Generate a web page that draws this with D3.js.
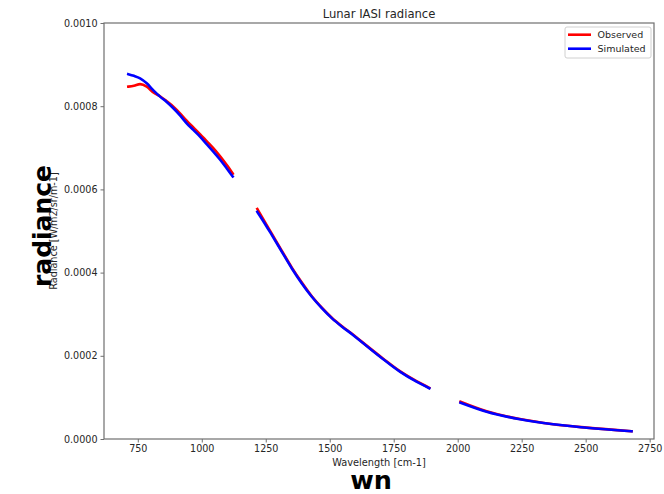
<!DOCTYPE html>
<html>
<head>
<meta charset="utf-8">
<script src="https://cdn.jsdelivr.net/npm/d3@7"></script>
<style>
  html, body { margin: 0; padding: 0; background: #fff; }
  svg { display: block; font-family: "DejaVu Sans", sans-serif; }
</style>
</head>
<body>
<svg id="chart" width="664" height="494"></svg>
<script>
// Wavenumber samples [cm-1]; null marks a gap between spectral bands
const wavenumbers = [
  713, 735, 759, 785, 811, 837, 863, 889, 915, 941, 967, 993, 1019, 1045, 1071, 1097, 1121,
  null,
  1217, 1235, 1274, 1313, 1352, 1391, 1430, 1470, 1509, 1548, 1587, 1626, 1709, 1774, 1839, 1889,
  null,
  2011, 2113, 2243, 2373, 2504, 2679
];

// Radiance values in units of 1e-3 W/m2/sr/m-1
const observed = [
  0.847, 0.849, 0.853, 0.847, 0.833, 0.824, 0.812, 0.799, 0.783, 0.765, 0.749, 0.733, 0.716, 0.699, 0.680, 0.659, 0.638,
  null,
  0.553, 0.534, 0.493, 0.452, 0.412, 0.376, 0.343, 0.315, 0.291, 0.271, 0.253, 0.2335, 0.193, 0.163, 0.139, 0.123,
  null,
  0.0895, 0.0665, 0.0480, 0.0356, 0.0274, 0.0187
];
const simulated = [
  0.877, 0.873, 0.867, 0.855, 0.838, 0.823, 0.810, 0.795, 0.778, 0.759, 0.743, 0.727, 0.709, 0.691, 0.672, 0.651, 0.631,
  null,
  0.546, 0.529, 0.490, 0.450, 0.410, 0.374, 0.342, 0.314, 0.290, 0.270, 0.252, 0.2325, 0.1916, 0.1618, 0.1377, 0.1219,
  null,
  0.0873, 0.0656, 0.0474, 0.0353, 0.0272, 0.0185
];

const xTicks = [750, 1000, 1250, 1500, 1750, 2000, 2250, 2500, 2750];
const yTicks = [0, 0.0002, 0.0004, 0.0006, 0.0008, 0.0010];

const seriesList = [
  { name: "Observed", values: observed, color: "#ff0000" },
  { name: "Simulated", values: simulated, color: "#0000ff" }
];

const svg = d3.select("#chart");
const margin = { left: 104, top: 23, right: 654, bottom: 439 };

const x = d3.scaleLinear().domain([618, 2767]).range([margin.left, margin.right]);
const y = d3.scaleLinear().domain([0, 0.001]).range([margin.bottom, margin.top]);

const axisColor = "#6f6f6f";
const textColor = "#262626";

// Axes
const xAxis = svg.append("g")
  .attr("transform", `translate(0,${margin.bottom})`)
  .call(d3.axisBottom(x).tickValues(xTicks).tickSize(3.5).tickPadding(3).tickFormat(d3.format("d")));
const yAxis = svg.append("g")
  .attr("transform", `translate(${margin.left},0)`)
  .call(d3.axisLeft(y).tickValues(yTicks).tickSize(3.5).tickPadding(3).tickFormat(d3.format(".4f")));

[xAxis, yAxis].forEach(g => {
  g.select(".domain").remove();
  g.selectAll(".tick line").attr("stroke", axisColor).attr("stroke-width", 1);
  g.selectAll(".tick text")
    .attr("fill", textColor)
    .style("font-family", "DejaVu Sans")
    .style("font-size", "9.6px");
});

// Lines
const line = d3.line()
  .defined((d) => d.v !== null && d.w !== null)
  .x(d => x(d.w))
  .y(d => y(d.v * 1e-3))
  .curve(d3.curveMonotoneX);

seriesList.forEach(s => {
  const pts = wavenumbers.map((w, i) => ({ w: w, v: s.values[i] }));
  svg.append("path")
    .datum(pts)
    .attr("fill", "none")
    .attr("stroke", s.color)
    .attr("stroke-width", 2.6)
    .attr("stroke-linejoin", "round")
    .attr("stroke-linecap", "square")
    .attr("d", line);
});

// Frame
svg.append("rect")
  .attr("x", margin.left).attr("y", margin.top)
  .attr("width", margin.right - margin.left)
  .attr("height", margin.bottom - margin.top)
  .attr("fill", "none")
  .attr("stroke", axisColor)
  .attr("stroke-width", 1.2);

// Title
svg.append("text")
  .attr("x", (margin.left + margin.right) / 2)
  .attr("y", 18)
  .attr("text-anchor", "middle")
  .attr("fill", textColor)
  .style("font-size", "11.6px")
  .text("Lunar IASI radiance");

// Axis labels
svg.append("text")
  .attr("x", (margin.left + margin.right) / 2)
  .attr("y", 466)
  .attr("text-anchor", "middle")
  .attr("fill", textColor)
  .style("font-size", "9.8px")
  .text("Wavelength [cm-1]");

svg.append("text")
  .attr("transform", `translate(56.5,${(margin.top + margin.bottom) / 2}) rotate(-90)`)
  .attr("text-anchor", "middle")
  .attr("fill", textColor)
  .style("font-size", "9.6px")
  .text("Radiance [W/m2/sr/m-1]");

// Large overlaid labels
svg.append("text")
  .attr("x", 371)
  .attr("y", 488.5)
  .attr("text-anchor", "middle")
  .attr("fill", "#000")
  .style("font-weight", "bold")
  .style("font-size", "25.5px")
  .text("wn");

svg.append("text")
  .attr("transform", `translate(51,226) rotate(-90)`)
  .attr("text-anchor", "middle")
  .attr("fill", "#000")
  .style("font-weight", "bold")
  .style("font-size", "25px")
  .text("radiance");

// Legend
const legend = svg.append("g").attr("transform", "translate(565,27)");
legend.append("rect")
  .attr("width", 86).attr("height", 31)
  .attr("rx", 2)
  .attr("fill", "#fff")
  .attr("stroke", "#d0d0d0")
  .attr("stroke-width", 1);
seriesList.forEach((s, i) => {
  const gy = 7.7 + i * 14;
  legend.append("line")
    .attr("x1", 3).attr("x2", 26)
    .attr("y1", gy).attr("y2", gy)
    .attr("stroke", s.color)
    .attr("stroke-width", 2.6);
  legend.append("text")
    .attr("x", 32.5)
    .attr("y", gy + 3.4)
    .attr("fill", textColor)
    .style("font-size", "9.5px")
    .text(s.name);
});
</script>
</body>
</html>
